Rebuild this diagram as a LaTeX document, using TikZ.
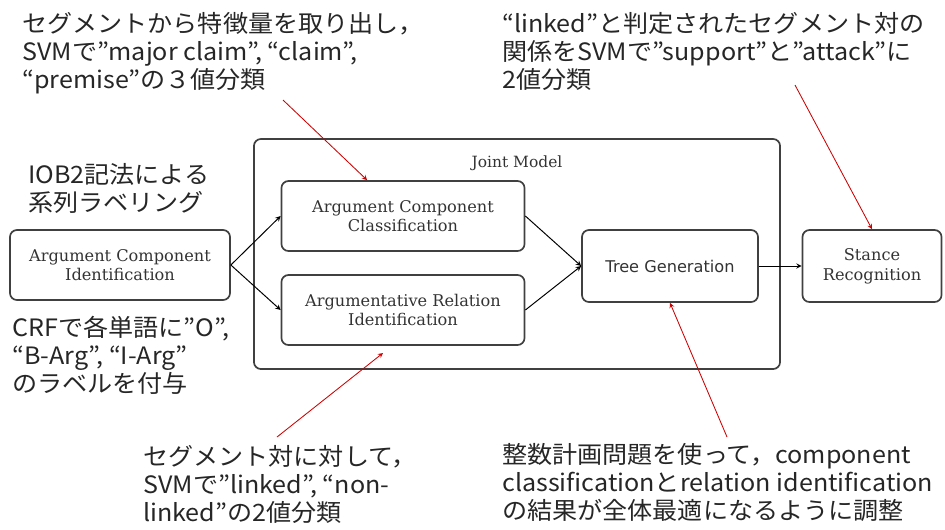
\documentclass[tikz,border=0pt]{standalone}
\usepackage{fontspec}
\setmainfont{DejaVu Serif}
\newfontfamily\jp[FakeStretch=1.05]{Noto Sans CJK JP}
\newfontfamily\tgfont{DejaVu Sans}
\usepackage{tikz}
\usetikzlibrary{arrows, positioning}

\begin{document}
\begin{tikzpicture}[x=0.025cm, y=-0.025cm, >=stealth,
  box/.style={draw=black!75, line width=1.2pt, rounded corners=5pt, align=center, text=black!80, font=\fontsize{11.5}{14}\selectfont},
  note/.style={anchor=north west, align=left, inner sep=0pt, text=black!85, font=\jp\fontsize{17}{20}\selectfont},
  pointer/.style={->, draw=red!80!black, line width=0.6pt},
  flow/.style={->, line width=0.7pt}]
\useasboundingbox (0, 0) rectangle (945, 529);
% joint model frame
\node[box, minimum width=13.15cm, minimum height=5.75cm] (JM) at (517, 254) {};
\node[text=black!80, font=\fontsize{11}{13}\selectfont] (JMlabel) at (517, 163) {Joint Model};
% pipeline
\node[box, minimum width=5.5cm, minimum height=1.75cm] (ACI) at (120, 265) {Argument Component\\Identification};
\node[box, minimum width=6.075cm, minimum height=1.75cm] (ACC) at (403, 216) {Argument Component\\Classification};
\node[box, minimum width=6.075cm, minimum height=1.75cm] (ARI) at (403, 310) {Argumentative Relation\\Identification};
\node[box, minimum width=4.4cm, minimum height=1.8cm, font=\tgfont\fontsize{11.5}{13}\selectfont] (TG) at (670, 266) {Tree Generation};
\node[box, minimum width=3.475cm, minimum height=1.8cm] (SR) at (872, 266) {Stance\\Recognition};
\draw[flow] (ACI.east) to (ACC.west);
\draw[flow] (ACI.east) to (ARI.west);
\draw[flow] (ACC.east) to (TG.west);
\draw[flow] (ARI.east) to (TG.west);
\draw[flow] (TG.east) to (SR.west);
% notes
\node[note] (nACC) at (22, 12) {セグメントから特徴量を取り出し，\\SVMで”major claim”, “claim”,\\“premise”の３値分類};
\node[note] (nSR) at (502, 12) {“linked”と判定されたセグメント対の\\関係をSVMで”support”と”attack”に\\2値分類};
\node[note] (nIOB) at (28, 163) {IOB2記法による\\系列ラベリング};
\node[note] (nCRF) at (12, 316) {CRFで各単語に”O”,\\“B-Arg”, “I-Arg”\\のラベルを付与};
\node[note] (nARI) at (143, 445) {セグメント対に対して，\\SVMで”linked”, “non-\\linked”の2値分類};
\node[note] (nTG) at (502, 443) {整数計画問題を使って，component\\classificationとrelation identification\\の結果が全体最適になるように調整};
% pointers
\coordinate (pACC) at (283, 100);
\coordinate (pSR) at (795, 85);
\coordinate (pARI) at (277, 437);
\coordinate (pTG) at (727, 437);
\coordinate (eARI) at (383, 353);
\draw[pointer] (pACC) to (ACC.135);
\draw[pointer] (pSR) to (SR.north);
\draw[pointer] (pARI) to (eARI);
\draw[pointer] (pTG) to (TG.south);
\end{tikzpicture}
\end{document}
